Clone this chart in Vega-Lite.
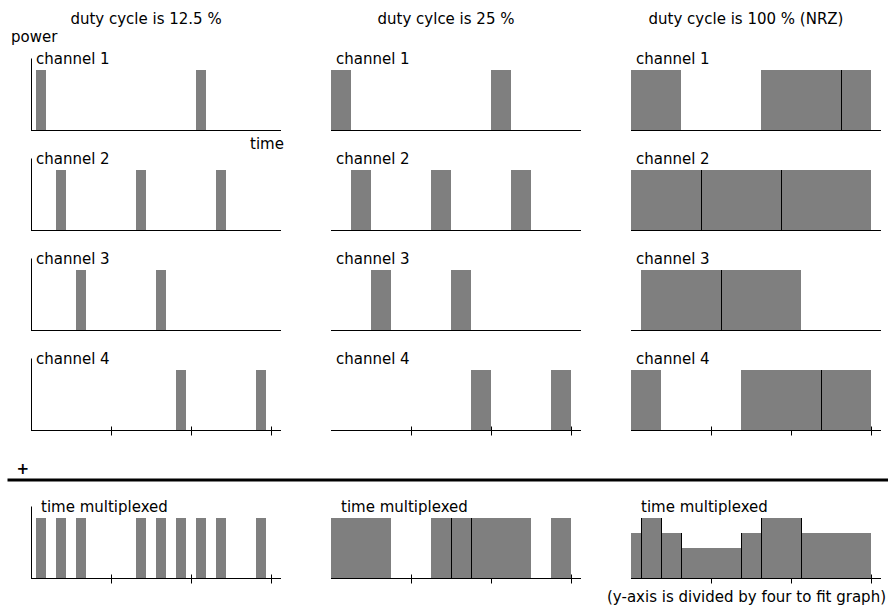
{
  "$schema": "https://vega.github.io/schema/vega-lite/v6.json",
  "autosize": {"type": "pad"},
  "padding": {"left": 6, "top": 11, "right": 0, "bottom": 0},
  "bounds": "full",
  "spacing": 17,
  "data": {"values": [
    {"k": "p", "d": "12.5 %", "r": "channel 1", "t0": 0.5, "t1": 1.5, "p": 1},
    {"k": "p", "d": "12.5 %", "r": "channel 1", "t0": 16.5, "t1": 17.5, "p": 1},
    {"k": "p", "d": "12.5 %", "r": "channel 2", "t0": 2.5, "t1": 3.5, "p": 1},
    {"k": "p", "d": "12.5 %", "r": "channel 2", "t0": 10.5, "t1": 11.5, "p": 1},
    {"k": "p", "d": "12.5 %", "r": "channel 2", "t0": 18.5, "t1": 19.5, "p": 1},
    {"k": "p", "d": "12.5 %", "r": "channel 3", "t0": 4.5, "t1": 5.5, "p": 1},
    {"k": "p", "d": "12.5 %", "r": "channel 3", "t0": 12.5, "t1": 13.5, "p": 1},
    {"k": "p", "d": "12.5 %", "r": "channel 4", "t0": 14.5, "t1": 15.5, "p": 1},
    {"k": "p", "d": "12.5 %", "r": "channel 4", "t0": 22.5, "t1": 23.5, "p": 1},
    {"k": "p", "d": "12.5 %", "r": "time multiplexed", "t0": 0.5, "t1": 1.5, "p": 1},
    {"k": "p", "d": "12.5 %", "r": "time multiplexed", "t0": 2.5, "t1": 3.5, "p": 1},
    {"k": "p", "d": "12.5 %", "r": "time multiplexed", "t0": 4.5, "t1": 5.5, "p": 1},
    {"k": "p", "d": "12.5 %", "r": "time multiplexed", "t0": 10.5, "t1": 11.5, "p": 1},
    {"k": "p", "d": "12.5 %", "r": "time multiplexed", "t0": 12.5, "t1": 13.5, "p": 1},
    {"k": "p", "d": "12.5 %", "r": "time multiplexed", "t0": 14.5, "t1": 15.5, "p": 1},
    {"k": "p", "d": "12.5 %", "r": "time multiplexed", "t0": 16.5, "t1": 17.5, "p": 1},
    {"k": "p", "d": "12.5 %", "r": "time multiplexed", "t0": 18.5, "t1": 19.5, "p": 1},
    {"k": "p", "d": "12.5 %", "r": "time multiplexed", "t0": 22.5, "t1": 23.5, "p": 1},
    {"k": "p", "d": "25 %", "r": "channel 1", "t0": 0, "t1": 2, "p": 1},
    {"k": "p", "d": "25 %", "r": "channel 1", "t0": 16, "t1": 18, "p": 1},
    {"k": "p", "d": "25 %", "r": "channel 2", "t0": 2, "t1": 4, "p": 1},
    {"k": "p", "d": "25 %", "r": "channel 2", "t0": 10, "t1": 12, "p": 1},
    {"k": "p", "d": "25 %", "r": "channel 2", "t0": 18, "t1": 20, "p": 1},
    {"k": "p", "d": "25 %", "r": "channel 3", "t0": 4, "t1": 6, "p": 1},
    {"k": "p", "d": "25 %", "r": "channel 3", "t0": 12, "t1": 14, "p": 1},
    {"k": "p", "d": "25 %", "r": "channel 4", "t0": 14, "t1": 16, "p": 1},
    {"k": "p", "d": "25 %", "r": "channel 4", "t0": 22, "t1": 24, "p": 1},
    {"k": "p", "d": "25 %", "r": "time multiplexed", "t0": 0, "t1": 2, "p": 1},
    {"k": "p", "d": "25 %", "r": "time multiplexed", "t0": 2, "t1": 4, "p": 1},
    {"k": "p", "d": "25 %", "r": "time multiplexed", "t0": 4, "t1": 6, "p": 1},
    {"k": "p", "d": "25 %", "r": "time multiplexed", "t0": 10, "t1": 12, "p": 1},
    {"k": "p", "d": "25 %", "r": "time multiplexed", "t0": 12, "t1": 14, "p": 1},
    {"k": "p", "d": "25 %", "r": "time multiplexed", "t0": 14, "t1": 16, "p": 1},
    {"k": "p", "d": "25 %", "r": "time multiplexed", "t0": 16, "t1": 18, "p": 1},
    {"k": "p", "d": "25 %", "r": "time multiplexed", "t0": 18, "t1": 20, "p": 1},
    {"k": "p", "d": "25 %", "r": "time multiplexed", "t0": 22, "t1": 24, "p": 1},
    {"k": "p", "d": "100 % (NRZ)", "r": "channel 1", "t0": 0, "t1": 5, "p": 1},
    {"k": "p", "d": "100 % (NRZ)", "r": "channel 1", "t0": 13, "t1": 21, "p": 1},
    {"k": "p", "d": "100 % (NRZ)", "r": "channel 1", "t0": 21, "t1": 24, "p": 1},
    {"k": "p", "d": "100 % (NRZ)", "r": "channel 2", "t0": 0, "t1": 7, "p": 1},
    {"k": "p", "d": "100 % (NRZ)", "r": "channel 2", "t0": 7, "t1": 15, "p": 1},
    {"k": "p", "d": "100 % (NRZ)", "r": "channel 2", "t0": 15, "t1": 24, "p": 1},
    {"k": "p", "d": "100 % (NRZ)", "r": "channel 3", "t0": 1, "t1": 9, "p": 1},
    {"k": "p", "d": "100 % (NRZ)", "r": "channel 3", "t0": 9, "t1": 17, "p": 1},
    {"k": "p", "d": "100 % (NRZ)", "r": "channel 4", "t0": 0, "t1": 3, "p": 1},
    {"k": "p", "d": "100 % (NRZ)", "r": "channel 4", "t0": 11, "t1": 19, "p": 1},
    {"k": "p", "d": "100 % (NRZ)", "r": "channel 4", "t0": 19, "t1": 24, "p": 1},
    {"k": "p", "d": "100 % (NRZ)", "r": "time multiplexed", "t0": 0, "t1": 1, "p": 0.75},
    {"k": "p", "d": "100 % (NRZ)", "r": "time multiplexed", "t0": 1, "t1": 3, "p": 1},
    {"k": "p", "d": "100 % (NRZ)", "r": "time multiplexed", "t0": 3, "t1": 5, "p": 0.75},
    {"k": "p", "d": "100 % (NRZ)", "r": "time multiplexed", "t0": 5, "t1": 11, "p": 0.5},
    {"k": "p", "d": "100 % (NRZ)", "r": "time multiplexed", "t0": 11, "t1": 13, "p": 0.75},
    {"k": "p", "d": "100 % (NRZ)", "r": "time multiplexed", "t0": 13, "t1": 17, "p": 1},
    {"k": "p", "d": "100 % (NRZ)", "r": "time multiplexed", "t0": 17, "t1": 24, "p": 0.75},
    {"k": "d", "d": "100 % (NRZ)", "r": "channel 1", "t0": 21, "p": 1},
    {"k": "d", "d": "100 % (NRZ)", "r": "channel 2", "t0": 7, "p": 1},
    {"k": "d", "d": "100 % (NRZ)", "r": "channel 2", "t0": 15, "p": 1},
    {"k": "d", "d": "100 % (NRZ)", "r": "channel 3", "t0": 9, "p": 1},
    {"k": "d", "d": "100 % (NRZ)", "r": "channel 4", "t0": 19, "p": 1},
    {"k": "d", "d": "25 %", "r": "time multiplexed", "t0": 12, "p": 1},
    {"k": "d", "d": "25 %", "r": "time multiplexed", "t0": 14, "p": 1},
    {"k": "d", "d": "100 % (NRZ)", "r": "time multiplexed", "t0": 1, "p": 1},
    {"k": "d", "d": "100 % (NRZ)", "r": "time multiplexed", "t0": 3, "p": 1},
    {"k": "d", "d": "100 % (NRZ)", "r": "time multiplexed", "t0": 5, "p": 0.75},
    {"k": "d", "d": "100 % (NRZ)", "r": "time multiplexed", "t0": 11, "p": 0.75},
    {"k": "d", "d": "100 % (NRZ)", "r": "time multiplexed", "t0": 13, "p": 1},
    {"k": "d", "d": "100 % (NRZ)", "r": "time multiplexed", "t0": 17, "p": 1},
    {"k": "l", "d": "12.5 %", "r": "channel 1", "txt": "channel 1"},
    {"k": "l", "d": "12.5 %", "r": "channel 2", "txt": "channel 2"},
    {"k": "l", "d": "12.5 %", "r": "channel 3", "txt": "channel 3"},
    {"k": "l", "d": "12.5 %", "r": "channel 4", "txt": "channel 4"},
    {"k": "l", "d": "12.5 %", "r": "time multiplexed", "txt": "time multiplexed"},
    {"k": "l", "d": "25 %", "r": "channel 1", "txt": "channel 1"},
    {"k": "l", "d": "25 %", "r": "channel 2", "txt": "channel 2"},
    {"k": "l", "d": "25 %", "r": "channel 3", "txt": "channel 3"},
    {"k": "l", "d": "25 %", "r": "channel 4", "txt": "channel 4"},
    {"k": "l", "d": "25 %", "r": "time multiplexed", "txt": "time multiplexed"},
    {"k": "l", "d": "100 % (NRZ)", "r": "channel 1", "txt": "channel 1"},
    {"k": "l", "d": "100 % (NRZ)", "r": "channel 2", "txt": "channel 2"},
    {"k": "l", "d": "100 % (NRZ)", "r": "channel 3", "txt": "channel 3"},
    {"k": "l", "d": "100 % (NRZ)", "r": "channel 4", "txt": "channel 4"},
    {"k": "l", "d": "100 % (NRZ)", "r": "time multiplexed", "txt": "time multiplexed"},
    {"k": "t", "d": "12.5 %", "r": "channel 1", "txt": "duty cycle is 12.5 %"},
    {"k": "t", "d": "25 %", "r": "channel 1", "txt": "duty cylce is 25 %"},
    {"k": "t", "d": "100 % (NRZ)", "r": "channel 1", "txt": "duty cycle is 100 % (NRZ)"},
    {"k": "yl", "d": "12.5 %", "r": "channel 1", "txt": "power"},
    {"k": "xl", "d": "12.5 %", "r": "channel 1", "txt": "time"},
    {"k": "plus", "d": "12.5 %", "r": "channel 4", "txt": "+"},
    {"k": "sep", "d": "12.5 %", "r": "channel 4"},
    {"k": "note", "d": "100 % (NRZ)", "r": "time multiplexed", "txt": "(y-axis is divided by four to fit graph)"}
  ]},
  "vconcat": [
    {
      "transform": [{"filter": "datum.r !== 'time multiplexed'"}],
      "bounds": "flush",
      "spacing": {"row": 28, "column": 50},
      "facet": {
        "row": {"field": "r", "type": "nominal", "title": null, "header": {"labels": false}},
        "column": {"field": "d", "type": "nominal", "title": null, "sort": ["12.5 %", "25 %", "100 % (NRZ)"], "header": {"labels": false}}
      },
      "spec": {
        "width": 250,
        "height": 72,
        "layer": [
          {
            "transform": [{"filter": "datum.k === 'p'"}],
            "mark": {"type": "rect", "fill": "#7f7f7f"},
            "encoding": {
              "x": {"field": "t0", "type": "quantitative", "title": null, "scale": {"domain": [0, 25], "nice": false, "zero": false},
                    "axis": {"values": [8, 16, 24]}},
              "x2": {"field": "t1"},
              "y": {"field": "p", "type": "quantitative", "title": null, "scale": {"domain": [0, 1.2], "nice": false}},
              "y2": {"datum": 0}
            }
          },
          {
            "transform": [{"filter": "datum.k === 'd'"}],
            "mark": {"type": "rule", "color": "#000", "strokeWidth": 1, "xOffset": 0.5},
            "encoding": {
              "x": {"field": "t0", "type": "quantitative", "title": null},
              "y": {"field": "p", "type": "quantitative", "title": null},
              "y2": {"datum": 0}
            }
          },
          {
            "transform": [{"filter": "datum.k === 'l'"}],
            "mark": {"type": "rule", "color": "#000", "strokeWidth": 1, "yOffset": 0.5},
            "encoding": {"y": {"datum": 0}}
          },
          {
            "transform": [{"filter": "datum.k === 'l'"}],
            "mark": {"type": "text", "align": "left", "baseline": "alphabetic"},
            "encoding": {"x": {"datum": 0.5}, "y": {"datum": 1.108}, "text": {"field": "txt"}}
          },
          {
            "transform": [{"filter": "datum.k === 't'"}],
            "mark": {"type": "text", "align": "center", "baseline": "alphabetic"},
            "encoding": {"x": {"datum": 11.5}, "y": {"datum": 1.767}, "text": {"field": "txt"}}
          },
          {
            "transform": [{"filter": "datum.k === 'yl'"}],
            "mark": {"type": "text", "align": "left", "baseline": "alphabetic"},
            "encoding": {"x": {"datum": -2.0}, "y": {"datum": 1.467}, "text": {"field": "txt"}}
          },
          {
            "transform": [{"filter": "datum.k === 'xl'"}],
            "mark": {"type": "text", "align": "left", "baseline": "alphabetic"},
            "encoding": {"x": {"datum": 21.9}, "y": {"datum": -0.317}, "text": {"field": "txt"}}
          },
          {
            "transform": [{"filter": "datum.k === 'plus'"}],
            "mark": {"type": "text", "align": "center", "baseline": "middle", "fontWeight": "bold"},
            "encoding": {"x": {"datum": -0.82}, "y": {"datum": -0.645}, "text": {"field": "txt"}}
          },
          {
            "transform": [{"filter": "datum.k === 'sep'"}],
            "mark": {"type": "rule", "color": "#000", "strokeWidth": 3},
            "encoding": {"x": {"datum": -2.35}, "x2": {"datum": 85.7}, "y": {"datum": -0.8333}}
          }
        ]
      }
    },
    {
      "transform": [{"filter": "datum.r === 'time multiplexed'"}],
      "bounds": "flush",
      "spacing": {"column": 50},
      "facet": {
        "column": {"field": "d", "type": "nominal", "title": null, "sort": ["12.5 %", "25 %", "100 % (NRZ)"], "header": {"labels": false}}
      },
      "spec": {
        "width": 250,
        "height": 72,
        "layer": [
          {
            "transform": [{"filter": "datum.k === 'p'"}],
            "mark": {"type": "rect", "fill": "#7f7f7f"},
            "encoding": {
              "x": {"field": "t0", "type": "quantitative", "title": null, "scale": {"domain": [0, 25], "nice": false, "zero": false},
                    "axis": {"values": [8, 16, 24]}},
              "x2": {"field": "t1"},
              "y": {"field": "p", "type": "quantitative", "title": null, "scale": {"domain": [0, 1.2], "nice": false}},
              "y2": {"datum": 0}
            }
          },
          {
            "transform": [{"filter": "datum.k === 'd'"}],
            "mark": {"type": "rule", "color": "#000", "strokeWidth": 1, "xOffset": 0.5},
            "encoding": {
              "x": {"field": "t0", "type": "quantitative", "title": null},
              "y": {"field": "p", "type": "quantitative", "title": null},
              "y2": {"datum": 0}
            }
          },
          {
            "transform": [{"filter": "datum.k === 'l'"}],
            "mark": {"type": "rule", "color": "#000", "strokeWidth": 1, "yOffset": 0.5},
            "encoding": {"y": {"datum": 0}}
          },
          {
            "transform": [{"filter": "datum.k === 'l'"}],
            "mark": {"type": "text", "align": "left", "baseline": "alphabetic"},
            "encoding": {"x": {"datum": 1.0}, "y": {"datum": 1.105}, "text": {"field": "txt"}}
          },
          {
            "transform": [{"filter": "datum.k === 'note'"}],
            "mark": {"type": "text", "align": "center", "baseline": "alphabetic"},
            "encoding": {"x": {"datum": 11.55}, "y": {"datum": -0.4}, "text": {"field": "txt"}}
          }
        ]
      }
    }
  ],
  "config": {
    "view": {"stroke": null},
    "font": "DejaVu Sans",
    "text": {"font": "DejaVu Sans", "fontSize": 15, "color": "#000"},
    "axis": {"grid": false, "labels": false, "domainColor": "#000", "tickColor": "#000", "domainWidth": 1, "tickWidth": 1},
    "axisX": {"domain": false, "ticks": true, "tickSize": 9, "offset": -4},
    "axisY": {"domain": true, "ticks": false}
  }
}
